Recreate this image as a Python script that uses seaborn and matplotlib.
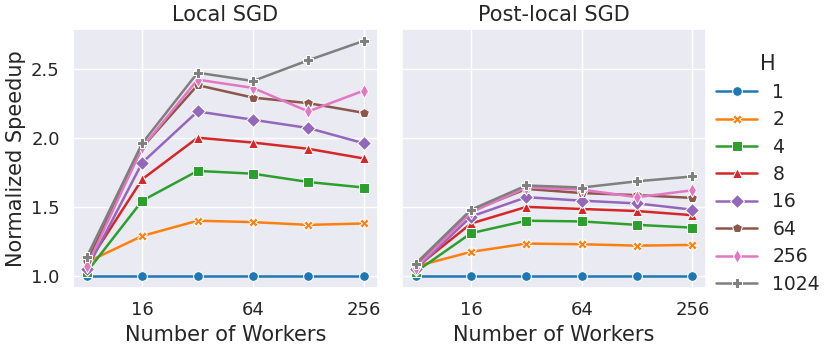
import pandas as pd
import matplotlib.pyplot as plt
import matplotlib.ticker as mticker
import seaborn as sns

# speedup of local SGD variants vs. number of workers, one line per H

workers = [8, 16, 32, 64, 128, 256]
h_values = ["1", "2", "4", "8", "16", "64", "256", "1024"]

local_sgd = {
    "1":    [1.00, 1.00, 1.00, 1.00, 1.00, 1.00],
    "2":    [1.10, 1.29, 1.40, 1.39, 1.37, 1.38],
    "4":    [1.03, 1.545, 1.76, 1.74, 1.68, 1.64],
    "8":    [1.08, 1.70, 2.00, 1.965, 1.92, 1.85],
    "16":   [1.05, 1.82, 2.19, 2.13, 2.07, 1.96],
    "64":   [1.10, 1.93, 2.38, 2.29, 2.25, 2.18],
    "256":  [1.07, 1.93, 2.42, 2.36, 2.19, 2.34],
    "1024": [1.14, 1.96, 2.47, 2.41, 2.56, 2.70],
}

post_local_sgd = {
    "1":    [1.00, 1.00, 1.00, 1.00, 1.00, 1.00],
    "2":    [1.07, 1.175, 1.235, 1.23, 1.22, 1.225],
    "4":    [1.03, 1.31, 1.40, 1.395, 1.37, 1.35],
    "8":    [1.06, 1.38, 1.50, 1.485, 1.47, 1.44],
    "16":   [1.05, 1.43, 1.57, 1.545, 1.525, 1.48],
    "64":   [1.07, 1.47, 1.63, 1.60, 1.585, 1.565],
    "256":  [1.06, 1.46, 1.64, 1.625, 1.57, 1.62],
    "1024": [1.09, 1.48, 1.655, 1.64, 1.685, 1.72],
}

marker_list = ["o", "X", "s", "^", "D", "p", "d", "P"]


def to_long(data):
    rows = []
    for h in h_values:
        for w, v in zip(workers, data[h]):
            rows.append({"workers": w, "speedup": v, "H": h})
    return pd.DataFrame(rows)


sns.set_theme(style="darkgrid")
palette = sns.color_palette("tab10", len(h_values))

fig, axes = plt.subplots(1, 2, figsize=(8.3, 3.51), dpi=100, sharey=True)

panels = [("Local SGD", local_sgd), ("Post-local SGD", post_local_sgd)]
for i, (title, data) in enumerate(panels):
    ax = axes[i]
    sns.lineplot(data=to_long(data), x="workers", y="speedup", hue="H", style="H",
                 hue_order=h_values, style_order=h_values, palette=palette,
                 markers=marker_list, dashes=False, markersize=7, linewidth=1.8,
                 legend=(i == 1), ax=ax)
    ax.set_xscale("log", base=2)
    ax.set_xticks([16, 64, 256])
    ax.xaxis.set_major_formatter(mticker.ScalarFormatter())
    ax.xaxis.set_minor_locator(mticker.NullLocator())
    ax.set_title(title, fontsize=15)
    ax.set_xlabel("Number of Workers", fontsize=15)
    ax.set_ylabel("Normalized Speedup", fontsize=15)
    ax.tick_params(labelsize=13)

axes[0].set_yticks([1.0, 1.5, 2.0, 2.5])

leg = axes[1].legend(title="H", loc="center left", bbox_to_anchor=(0.977, 0.44),
                     frameon=False, fontsize=13.5, title_fontsize=15,
                     labelspacing=0.45, handlelength=2.2)

fig.subplots_adjust(left=0.088, right=0.851, bottom=0.18, top=0.917, wspace=0.08)
fig.savefig("out.png")
